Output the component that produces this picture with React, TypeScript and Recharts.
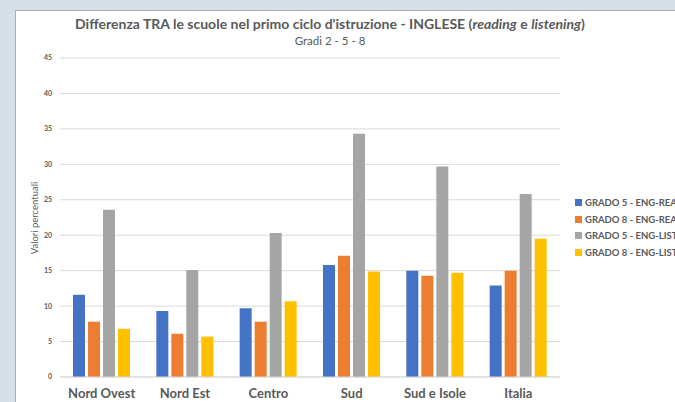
import { BarChart, Bar, XAxis, YAxis, CartesianGrid } from "recharts";

const categories = ["Nord Ovest", "Nord Est", "Centro", "Sud", "Sud e Isole", "Italia"];
const g5Reading = [11.6, 9.3, 9.7, 15.8, 15.0, 12.9];
const g8Reading = [7.8, 6.1, 7.8, 17.1, 14.3, 15.0];
const g5Listening = [23.6, 15.1, 20.3, 34.3, 29.7, 25.8];
const g8Listening = [6.8, 5.7, 10.7, 14.9, 14.7, 19.5];
const yTicks = [0, 5, 10, 15, 20, 25, 30, 35, 40, 45];

const series = [
  { key: "g5r", name: "GRADO 5 - ENG-READING", color: "#4472C4" },
  { key: "g8r", name: "GRADO 8 - ENG-READING", color: "#ED7D31" },
  { key: "g5l", name: "GRADO 5 - ENG-LISTENING", color: "#A5A5A5" },
  { key: "g8l", name: "GRADO 8 - ENG-LISTENING", color: "#FFC000" },
];

const data = categories.map((c, i) => ({
  name: c,
  g5r: g5Reading[i],
  g8r: g8Reading[i],
  g5l: g5Listening[i],
  g8l: g8Listening[i],
}));

const TEXT = "#595959";
const FONT = "Lato, 'Open Sans', sans-serif";

const LegendList = () => (
  <div style={{ position: "absolute", left: 559, top: 183 }}>
    {series.map((s) => (
      <div key={s.key} style={{ display: "flex", alignItems: "center", height: 16.8, whiteSpace: "nowrap" }}>
        <span style={{ width: 7, height: 7, background: s.color, marginRight: 3, flex: "none" }} />
        <span style={{ fontSize: 9.5, fontWeight: 700, color: TEXT }}>{s.name}</span>
      </div>
    ))}
  </div>
);

export default function App() {
  return (
    <div
      style={{
        position: "fixed",
        left: 0,
        top: 0,
        width: 675,
        height: 402,
        overflow: "hidden",
        background: "#d5e0e6",
        fontFamily: FONT,
      }}
    >
      <div
        style={{
          position: "absolute",
          left: 15,
          top: 10,
          width: 720,
          height: 420,
          background: "#fff",
          border: "1px solid #a3adb4",
        }}
      >
        <div
          style={{
            position: "absolute",
            left: 0,
            width: 628,
            top: 4,
            textAlign: "center",
            fontSize: 14,
            lineHeight: "17px",
            fontWeight: 700,
            color: TEXT,
            whiteSpace: "nowrap",
          }}
        >
          Differenza TRA le scuole nel primo ciclo d'istruzione - INGLESE (<i>reading</i> e <i>listening</i>)
        </div>
        <div
          style={{
            position: "absolute",
            left: 0,
            width: 628,
            top: 22,
            textAlign: "center",
            fontSize: 11.5,
            lineHeight: "15px",
            color: TEXT,
          }}
        >
          Gradi 2 - 5 - 8
        </div>
        <BarChart
          width={720}
          height={400}
          data={data}
          margin={{ top: 47, right: 176, bottom: 4, left: 0 }}
          barSize={12}
          barGap={3}
        >
          <CartesianGrid vertical={false} stroke="#d9d9d9" />
          <XAxis
            dataKey="name"
            height={30}
            tickLine={false}
            axisLine={{ stroke: "#d9d9d9" }}
            tickMargin={6}
            tick={{ fontSize: 13, fontWeight: 700, fill: TEXT, fontFamily: FONT }}
            interval={0}
          />
          <YAxis
            width={44}
            domain={[0, 45]}
            ticks={yTicks}
            tickLine={false}
            axisLine={false}
            tick={{ fontSize: 7, fontWeight: 700, fill: TEXT, fontFamily: FONT }}
            label={{
              content: () => (
                <text
                  x={18}
                  y={207}
                  transform="rotate(-90 18 207)"
                  textAnchor="middle"
                  dominantBaseline="central"
                  fontSize={9.5}
                  fill={TEXT}
                  fontFamily={FONT}
                >
                  Valori percentuali
                </text>
              ),
            }}
          />
          {series.map((s) => (
            <Bar key={s.key} dataKey={s.key} name={s.name} fill={s.color} isAnimationActive={false} />
          ))}
        </BarChart>
        <LegendList />
      </div>
    </div>
  );
}
